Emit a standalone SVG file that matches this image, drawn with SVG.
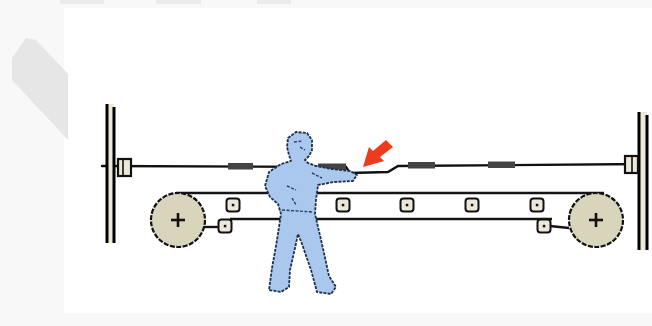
<svg xmlns="http://www.w3.org/2000/svg" width="652" height="326" viewBox="0 0 652 326">
  <style>
    .wire { fill: none; stroke: #111; stroke-width: 2.4; stroke-linecap: round; }
    .belt { fill: none; stroke: #151515; stroke-width: 2.4; }
    .sleeve { fill: #444; }
    .post { stroke: #000; stroke-width: 3; }
    .wheel { fill: #d8d5bc; stroke: #111; stroke-width: 2.2; stroke-dasharray: 5 1.5; }
    .cross { stroke: #111; stroke-width: 2.6; }
    .roller { fill: #ebe8da; stroke: #111; stroke-width: 2; }
    .dot { fill: #111; }
    .body { fill: #aac8ee; stroke: #1d2f4a; stroke-width: 1.8; stroke-dasharray: 3 1.2; stroke-linejoin: round; }
    .detail { fill: none; stroke: #2a3f5e; stroke-width: 1.4; stroke-dasharray: 3 1.5; }
  </style>

  <!-- backdrop -->
  <rect x="0" y="0" width="652" height="326" fill="#f8f8f8"/>
  <rect x="64" y="8" width="588" height="305" fill="#ffffff"/>
  <polygon points="12,58 26,38 36,40 68,74 68,140 12,80" fill="#e6e6e6"/>
  <rect x="60" y="0" width="44" height="4" fill="#ebebeb"/>
  <rect x="156" y="0" width="45" height="4" fill="#ebebeb"/>
  <rect x="257" y="0" width="34" height="4" fill="#ebebeb"/>

  <!-- connectors: tie wire, belts and links -->
  <g id="connectors">
    <path class="wire" d="M102 166 L346 167 L350 173 L388 172 L398 166 L645 164"/>
    <rect class="sleeve" x="228" y="163" width="25" height="6.5"/>
    <rect class="sleeve" x="318" y="163.5" width="28" height="6.5"/>
    <rect class="sleeve" x="408" y="162" width="27" height="6.5"/>
    <rect class="sleeve" x="488" y="161.5" width="27" height="6.5"/>
    <path class="belt" d="M176 193 L604 193"/>
    <path class="belt" d="M230 219 L552 219"/>
    <path class="belt" d="M204 227 L219 227"/>
    <path class="belt" d="M550 226 L569 228"/>
  </g>

  <!-- left post with bracket -->
  <g id="post-left">
    <rect x="107" y="104" width="7" height="139" fill="#ece9d6"/>
    <line class="post" x1="107" y1="104" x2="107" y2="243"/>
    <line class="post" x1="114" y1="107" x2="114" y2="243"/>
    <rect x="118" y="159" width="13" height="17" fill="#ece9d6" stroke="#111" stroke-width="2.2"/>
    <line x1="123" y1="159" x2="123" y2="176" stroke="#111" stroke-width="1.6"/>
  </g>

  <!-- right post with bracket -->
  <g id="post-right">
    <rect x="639" y="112" width="8" height="138" fill="#ece9d6"/>
    <line class="post" x1="639" y1="112" x2="639" y2="250"/>
    <line class="post" x1="647" y1="115" x2="647" y2="250"/>
    <rect x="625" y="156" width="13" height="17" fill="#ece9d6" stroke="#111" stroke-width="2.2"/>
    <line x1="632" y1="156" x2="632" y2="173" stroke="#111" stroke-width="1.6"/>
  </g>

  <!-- drive pulleys -->
  <g id="pulley-left">
    <circle class="wheel" cx="178" cy="220" r="27"/>
    <line class="cross" x1="171" y1="220" x2="185" y2="220"/>
    <line class="cross" x1="178" y1="213" x2="178" y2="227"/>
  </g>
  <g id="pulley-right">
    <circle class="wheel" cx="596" cy="220" r="27"/>
    <line class="cross" x1="589" y1="220" x2="603" y2="220"/>
    <line class="cross" x1="596" y1="213" x2="596" y2="227"/>
  </g>

  <!-- carrier rollers -->
  <g id="rollers">
    <g id="roller-1"><rect class="roller" x="226.5" y="198.5" width="13" height="13" rx="3"/><rect class="dot" x="231.8" y="203.8" width="2.5" height="2.5"/></g>
    <g id="roller-2"><rect class="roller" x="336.5" y="198.5" width="13" height="13" rx="3"/><rect class="dot" x="341.8" y="203.8" width="2.5" height="2.5"/></g>
    <g id="roller-3"><rect class="roller" x="400.5" y="198.5" width="13" height="13" rx="3"/><rect class="dot" x="405.8" y="203.8" width="2.5" height="2.5"/></g>
    <g id="roller-4"><rect class="roller" x="465.5" y="198.5" width="13" height="13" rx="3"/><rect class="dot" x="470.8" y="203.8" width="2.5" height="2.5"/></g>
    <g id="roller-5"><rect class="roller" x="530.5" y="198.5" width="13" height="13" rx="3"/><rect class="dot" x="535.8" y="203.8" width="2.5" height="2.5"/></g>
    <g id="roller-6"><rect class="roller" x="218.5" y="219.5" width="13" height="13" rx="3"/><rect class="dot" x="223.8" y="224.8" width="2.5" height="2.5"/></g>
    <g id="roller-7"><rect class="roller" x="537.5" y="219.5" width="13" height="13" rx="3"/><rect class="dot" x="542.8" y="224.8" width="2.5" height="2.5"/></g>
  </g>

  <!-- worker pulling the tie wire -->
  <g id="worker">
    <path class="body" d="M288 138 L296 132 L307 133 L312 140 L312 150 L309 156 L305 160 L308 163 L316 166 L332 169 L350 171 L357 175 L353 181 L334 182 L318 185 L316 200 L315 214 L322 244 L329 276 L336 287 L331 294 L317 292 L311 270 L302 244 L298 234 L295 248 L290 270 L289 287 L281 292 L269 290 L272 268 L277 240 L281 214 L278 204 L270 197 L265 186 L269 172 L281 164 L291 161 L289 155 L287 147 Z"/>
    <path class="detail" d="M294 142 L302 141 M300 147 L305 150 M287 186 L296 190 M282 210 L313 212 M292 198 L296 205 M312 173 L322 178"/>
  </g>

  <!-- pointer arrow -->
  <g id="arrow">
    <path d="M393 147 L380 157 L384 161 L363 167 L369 147 L373 151 L386 140 Z" fill="#ee3b1f"/>
  </g>
</svg>
